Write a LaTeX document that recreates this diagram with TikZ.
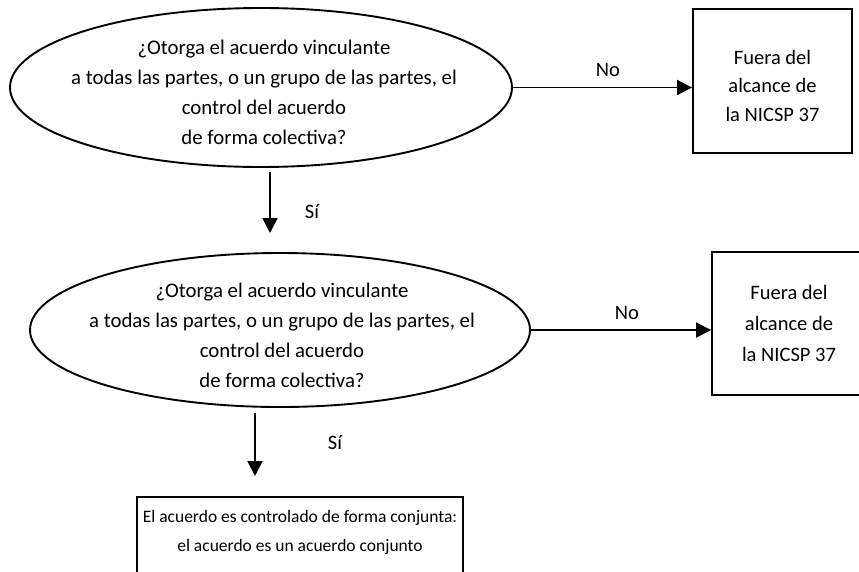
\documentclass[tikz,border=0pt]{standalone}
\usepackage{fontspec}
\setmainfont{Carlito}
\usetikzlibrary{shapes.geometric,arrows.meta}
\begin{document}
\begin{tikzpicture}[x=1pt,y=-1pt,
  shapeline/.style={draw=black,line width=1.9pt},
  oval/.style={shapeline,ellipse,inner sep=0pt},
  txt/.style={align=center,inner sep=0pt,font=\fontsize{20.8}{30}\selectfont},
  boxtxt/.style={align=center,inner sep=0pt,font=\fontsize{20.5}{28.5}\selectfont},
  lbl/.style={inner sep=0pt,font=\fontsize{20.5}{24}\selectfont},
  flow/.style={draw=black,line width=1.9pt,-{Triangle[length=15pt,width=15pt]}}
]
\useasboundingbox (0,0) rectangle (859,571);
\clip (0,0) rectangle (859,571);
% ellipses
\node[oval,minimum width=502pt,minimum height=159pt] (e1) at (261,87.5) {};
\node[txt] (t1) at (264,92) {¿Otorga el acuerdo vinculante\\a todas las partes, o un grupo de las partes, el\\control del acuerdo\\de forma colectiva?};
\node[oval,minimum width=500pt,minimum height=154pt] (e2) at (280,330) {};
\node[txt] (t2) at (282,335) {¿Otorga el acuerdo vinculante\\a todas las partes, o un grupo de las partes, el\\control del acuerdo\\de forma colectiva?};
% boxes
\node[shapeline,minimum width=159pt,minimum height=144pt,inner sep=0pt] (b1) at (772.5,81) {};
\node[boxtxt] (bt1) at (772.5,85.5) {Fuera del\\alcance de\\la NICSP 37};
\node[shapeline,minimum width=154pt,minimum height=143pt,inner sep=0pt] (b2) at (789,323.5) {};
\node[boxtxt,font=\fontsize{20.5}{31}\selectfont] (bt2) at (789,323.5) {Fuera del\\alcance de\\la NICSP 37};
\node[shapeline,minimum width=326pt,minimum height=110pt,inner sep=0pt] (b3) at (300,552) {};
\node[txt,font=\fontsize{17.5}{29}\selectfont] (bt3) at (300,532.5) {El acuerdo es controlado de forma conjunta:\\el acuerdo es un acuerdo conjunto};
% connectors
\draw[flow] (e1.east) -- (e1.east -| b1.west);
\draw[flow] (e2.east) -- (e2.east -| b2.west);
\coordinate (d1s) at (270,172);
\coordinate (d1e) at (270,233);
\coordinate (d2s) at (255,413);
\coordinate (d2e) at (255,476);
\draw[flow] (d1s) -- (d1e);
\draw[flow] (d2s) -- (d2e);
% labels
\node[lbl] (no1) at (608,70) {No};
\node[lbl] (no2) at (627,313) {No};
\node[lbl] (si1) at (312,212) {Sí};
\node[lbl] (si2) at (335,443) {Sí};
\end{tikzpicture}
\end{document}
